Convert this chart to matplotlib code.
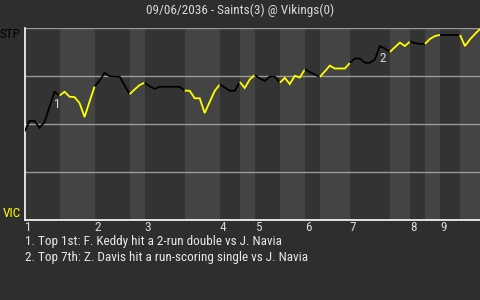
import matplotlib
matplotlib.use("Agg")
import matplotlib.pyplot as plt
from matplotlib import font_manager

title = "09/06/2036 - Saints(3) @ Vikings(0)"
away_abbr = "STP"
home_abbr = "VIC"

# win probability for the away team (Saints) after each play
wp = [0.46, 0.516, 0.516, 0.48, 0.51, 0.59, 0.668,
      0.648, 0.668, 0.642, 0.64, 0.609, 0.536, 0.617,
      0.696, 0.725, 0.767, 0.749, 0.747, 0.747, 0.70,
      0.655, 0.68, 0.703,
      0.715, 0.696, 0.683, 0.694, 0.694, 0.694, 0.694, 0.694,
      0.674, 0.673, 0.634, 0.634, 0.557, 0.615, 0.672,
      0.706, 0.69, 0.673, 0.673,
      0.719, 0.6875, 0.732,
      0.755, 0.737, 0.725, 0.747, 0.747,
      0.715, 0.74, 0.708, 0.751, 0.742,
      0.784, 0.771, 0.758,
      0.745, 0.774, 0.804, 0.789, 0.789, 0.789,
      0.818, 0.841, 0.841, 0.819, 0.819, 0.836, 0.906, 0.893,
      0.875, 0.90, 0.924, 0.906,
      0.929, 0.922, 0.917,
      0.917, 0.943, 0.958,
      0.964, 0.964, 0.964, 0.964,
      0.964, 0.906, 0.941, 0.969, 0.995]

# index of first play of each half inning (top 1 .. bottom 9), plus end
half_starts = [0, 7, 14, 21, 24, 32, 39, 43, 46, 51, 56, 59, 65, 73, 77, 80, 83, 87, 91]
inning_labels = ["1", "2", "3", "4", "5", "6", "7", "8", "9"]

notes = ["1. Top 1st: F. Keddy hit a 2-run double vs J. Navia",
         "2. Top 7th: Z. Davis hit a run-scoring single vs J. Navia"]
note_marks = ["1", "2"]
note_plays = [6, 71]

available = {f.name for f in font_manager.fontManager.ttflist}
fam, fs = "DejaVu Sans", 7.5
for cand, size in [("Roboto Condensed", 9.5), ("Liberation Sans Narrow", 9.5),
                   ("Open Sans Condensed", 9.0), ("Liberation Sans", 8.6), ("Roboto", 8.4)]:
    if cand in available:
        fam, fs = cand, size
        break
plt.rcParams['font.family'] = [fam, 'DejaVu Sans']

fig = plt.figure(figsize=(4.8, 3.0), dpi=100)
fig.patch.set_facecolor("#2e2e2e")
ax = fig.add_axes([24.5 / 480, 80 / 300, 455.5 / 480, 192 / 300])
ax.set_facecolor("#333333")

n = len(wp) - 1
ax.set_xlim(0, n)
ax.set_ylim(0, 1)

for k in range(len(half_starts) - 1):
    s, e = half_starts[k], half_starts[k + 1]
    if k % 2 == 1:
        ax.axvspan(s, e, color="#444444", lw=0, zorder=0)

for yv in [0.25, 0.5, 0.75, 1.0]:
    ax.axhline(yv, color="#9a9a9a", lw=1.0, zorder=1)

for k in range(len(half_starts) - 1):
    s, e = half_starts[k], half_starts[k + 1]
    col = "black" if k % 2 == 0 else "#ffff00"
    xs = list(range(s, e + 1))
    ax.plot(xs, wp[s:e + 1], color=col, lw=1.3, zorder=3,
            solid_joinstyle="miter", solid_capstyle="butt")

for m, p in zip(note_marks, note_plays):
    ax.annotate(m, (p, wp[p]), xytext=(2, -9), textcoords="offset points",
                color="#d8d8d8", fontsize=fs, ha="center", va="center", zorder=4)

for sp in ["top", "right"]:
    ax.spines[sp].set_visible(False)
for sp in ["left", "bottom"]:
    ax.spines[sp].set_color("white")
    ax.spines[sp].set_linewidth(1.2)

ax.set_yticks([])
ax.set_xticks([half_starts[2 * i] for i in range(9)])
ax.set_xticklabels(inning_labels, ha="left")
ax.tick_params(axis="x", length=0, pad=1, colors="#d8d8d8", labelsize=fs)

ax.text(-0.008, 1.0, away_abbr, transform=ax.transAxes, ha="right", va="top",
        color="black", fontsize=fs)
ax.text(-0.008, 0.0, home_abbr, transform=ax.transAxes, ha="right", va="bottom",
        color="#ffff00", fontsize=fs)

fig.text(0.5, 1 - 10 / 300, title, ha="center", va="center", color="#d8d8d8", fontsize=fs)
fig.text(25 / 480, 1 - 241 / 300, notes[0], ha="left", va="center", color="#e8e8e8", fontsize=fs)
fig.text(25 / 480, 1 - 257 / 300, notes[1], ha="left", va="center", color="#e8e8e8", fontsize=fs)

fig.savefig("out.png", dpi=100, facecolor=fig.get_facecolor())
